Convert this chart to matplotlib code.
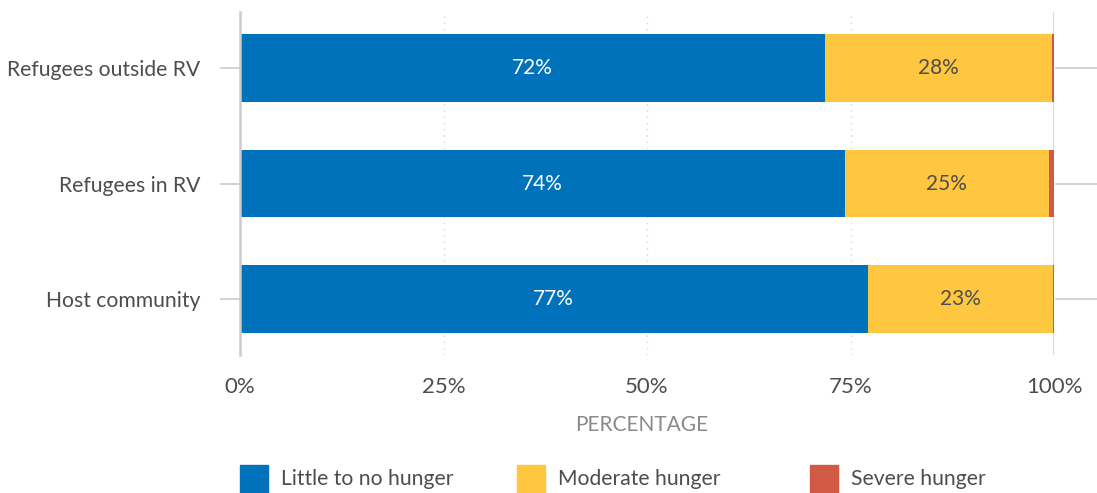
import matplotlib
matplotlib.use("Agg")
import matplotlib.pyplot as plt
from matplotlib.patches import Rectangle
import matplotlib.transforms as mtransforms

plt.rcParams['font.family'] = ['Lato', 'DejaVu Sans']

# data
groups = ["Host community", "Refugees in RV", "Refugees outside RV"]
little = [77.1, 74.3, 71.9]
moderate = [22.75, 25.05, 27.85]
severe = [0.15, 0.65, 0.25]
little_lbl = ["77%", "74%", "72%"]
moderate_lbl = ["23%", "25%", "28%"]
series_names = ["Little to no hunger", "Moderate hunger", "Severe hunger"]
colors = ["#0072BC", "#FFC740", "#D25A45"]
text_col = "#4d4d4d"
line_col = "#cccccc"

W, H = 1097, 493
fig = plt.figure(figsize=(W / 100, H / 100), dpi=100)
ax = fig.add_axes([240/W, 1 - 355/H, 814/W, 343/H])

y = list(range(len(groups)))
h = 0.59
ax.barh(y, little, height=h, color=colors[0])
left2 = little
ax.barh(y, moderate, height=h, left=left2, color=colors[1])
left3 = [a + b for a, b in zip(little, moderate)]
ax.barh(y, severe, height=h, left=left3, color=colors[2])

for i in y:
    ax.text(little[i] / 2, i, little_lbl[i], ha='center', va='center',
            color='white', fontsize=15)
    ax.text(little[i] + moderate[i] / 2, i, moderate_lbl[i], ha='center',
            va='center', color=text_col, fontsize=15)

ax.set_xlim(0, 100)
ax.set_ylim(-0.49, 2.49)
ax.set_yticks(y)
ax.set_yticklabels(groups, fontsize=15.2, color=text_col)
ax.set_xticks([0, 25, 50, 75, 100])
ax.set_xticklabels(["0%", "25%", "50%", "75%", "100%"], fontsize=16, color=text_col)
ax.tick_params(axis='y', length=14.4, width=1.2, color=line_col, pad=14)
ax.tick_params(axis='x', length=0, pad=16)

for s in ['top', 'bottom', 'right']:
    ax.spines[s].set_visible(False)
ax.spines['left'].set_color(line_col)
ax.spines['left'].set_linewidth(1.8)

ax.set_axisbelow(True)
for xv in [25, 50, 75]:
    ax.axvline(xv, color="#d5d5d5", lw=1, ls=(0, (1, 3.5)), zorder=0)
ax.axvline(100, color=line_col, lw=1.8, zorder=0)

# category lines sticking out on the right
trans = mtransforms.blended_transform_factory(ax.transAxes, ax.transData)
for i in y:
    ax.plot([1.002, 1.06], [i, i], color=line_col, lw=1.2, transform=trans, clip_on=False)

fig.text(642/W, 1 - 425/H, "PERCENTAGE", ha='center', va='center',
         color="#8a8a8a", fontsize=15)

# legend, fixed-width columns like the original
leg_x = [240, 517, 810]
for px, name, c in zip(leg_x, series_names, colors):
    fig.patches.append(Rectangle((px / W, 1 - 493/H), 28 / W, 28 / H, color=c,
                                 transform=fig.transFigure))
    fig.text((px + 41) / W, 1 - 479/H, name, ha='left', va='center',
             color=text_col, fontsize=15.2)

fig.savefig("out.png", dpi=100)
